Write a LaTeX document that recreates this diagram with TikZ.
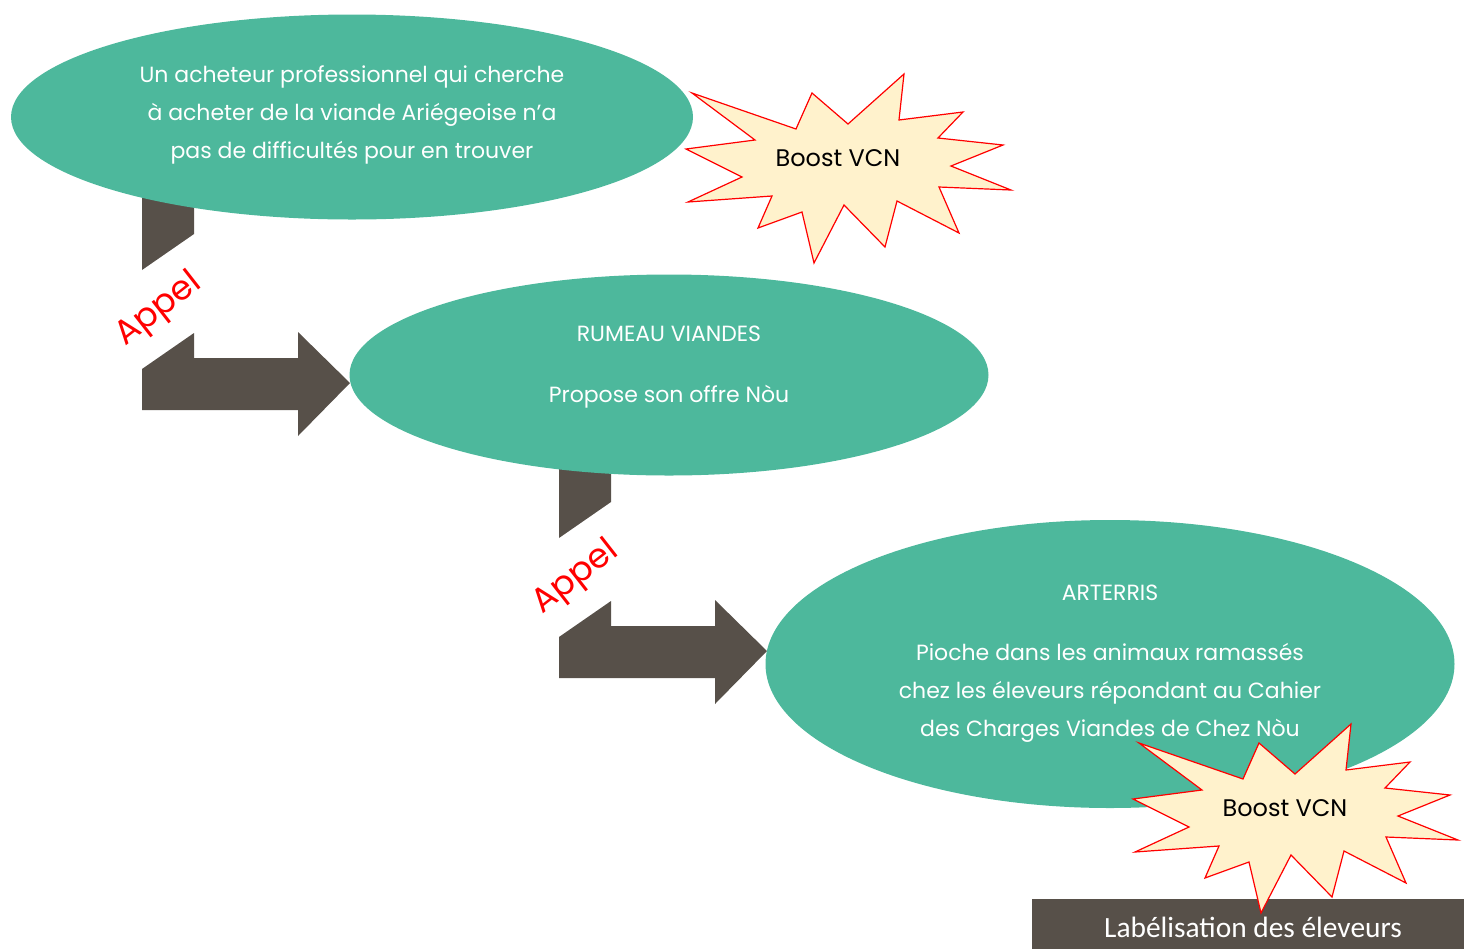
\documentclass[tikz,border=0pt]{standalone}
\usepackage{fontspec}
\setmainfont{Poppins}
\newfontfamily\labelfont{Carlito}
\usepackage{tikz}
\usetikzlibrary{shapes.geometric}
\definecolor{vert}{HTML}{4DB89C}
\definecolor{brun}{HTML}{575049}
\definecolor{creme}{HTML}{FFF2CC}
\tikzset{bulle/.style={ellipse,fill=vert,text=white,align=center,inner sep=0pt,
        font=\fontsize{11}{19}\selectfont},
    boom/.style={fill=creme,draw=red,line width=0.6pt,line join=miter},
    boomtext/.style={font=\fontsize{12}{12}\selectfont},
    fleche/.style={fill=brun},
    appel/.style={text=red,rotate=38,font=\fontsize{17}{17}\selectfont},
    cartouche/.style={fill=brun,text=white,minimum width=221pt,minimum height=25pt,
        inner sep=0pt,text height=16pt,text depth=3pt,
        font=\labelfont\fontsize{14.7}{14.7}\selectfont},
    pics/explosion/.style={code={
        \filldraw[boom] (-156,-75) -- (-52,-39) -- (-36,-75) -- (0,-44) -- (56,-94)
            -- (51,-48) -- (115,-56) -- (90,-30) -- (155,-23) -- (103,-2) -- (163,22)
            -- (91,19) -- (111,65) -- (49,33) -- (37,79) -- (-4,37) -- (-34,95)
            -- (-46,44) -- (-90,60) -- (-76,28) -- (-160,34) -- (-106,9) -- (-162,-19)
            -- (-93,-28) -- cycle;
        \node[boomtext] (-txt) at (-10,-10) {Boost VCN};}},
    pics/coude/.style={code={
        \fill[fleche] (0,0) -- (52,0) -- (52,44) -- (0,80) -- cycle;
        \fill[fleche] (0,179) -- (52,143) -- (52,168) -- (156,168) -- (156,142)
            -- (208,193) -- (156,246) -- (156,220) -- (0,220) -- cycle;
        \node[appel] (-txt) at (17,120) {Appel};}}}

\begin{document}
\begin{tikzpicture}[x=0.5pt,y=-0.5pt]
\useasboundingbox (0,0) rectangle (1464,949);
\pic (c1) at (142,190) {coude};
\pic (c2) at (559,458) {coude};
\node[bulle,minimum width=341pt,minimum height=102.5pt,text depth=5pt] (e1) at (352,117)
    {Un acheteur professionnel qui cherche\\ à acheter de la viande Ariégeoise n’a\\ pas de difficultés pour en trouver};
\node[bulle,minimum width=319.5pt,minimum height=100.5pt,text depth=11pt] (e2) at (669,375)
    {RUMEAU VIANDES\\[11.5pt] Propose son offre Nòu};
\node[bulle,minimum width=344.5pt,minimum height=144pt] (e3) at (1110,664)
    {ARTERRIS\\[11pt] Pioche dans les animaux ramassés\\ chez les éleveurs répondant au Cahier\\ des Charges Viandes de Chez Nòu};
\node[cartouche] (label) at (1253,924) {Labélisation des éleveurs};
\pic (b1) at (848,168) {explosion};
\pic (b2) at (1295,818) {explosion};
\end{tikzpicture}
\end{document}
